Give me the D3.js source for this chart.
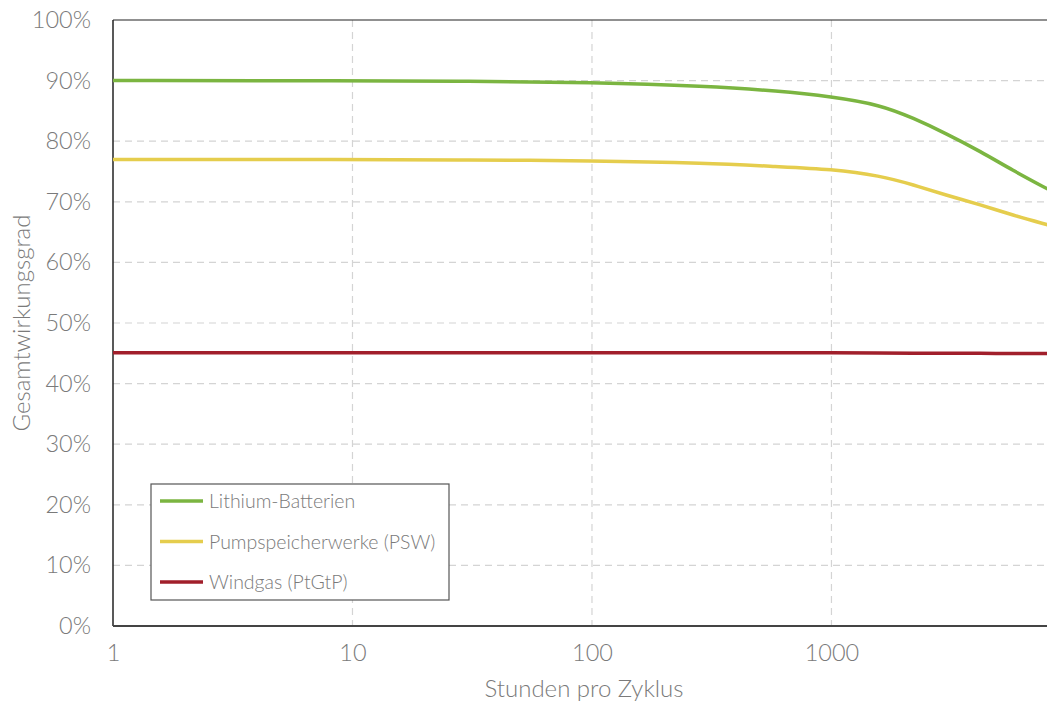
<!DOCTYPE html>
<html lang="de">
<head>
<meta charset="UTF-8">
<script src="https://d3js.org/d3.v7.min.js"></script>
<style>
  body { margin: 0; background: #fff; }
  text { font-family: "Lato", "Open Sans", sans-serif; font-weight: 300; fill: #7a7a7a; }
</style>
<title>Gesamtwirkungsgrad</title>
</head>
<body>
<svg id="chart" width="1047" height="706"></svg>
<script>
    // data
    var hours = [1, 10, 30, 100, 300, 600, 1000, 1600, 2200, 3000, 4200, 5700, 8000];
    var lithium = [90, 90, 89.9, 89.7, 89.1, 88.3, 87.35, 86.0, 83.8, 81.3, 78.3, 75.2, 72.1];
    var psw = [77, 77, 76.9, 76.8, 76.4, 75.8, 75.4, 74.3, 72.8, 71.1, 69.5, 67.8, 66.2];
    var windgas = [45.1, 45.1, 45.1, 45.1, 45.1, 45.1, 45.1, 45.05, 45.0, 45.0, 45.0, 44.95, 44.95];

    var seriesNames = ["Lithium-Batterien", "Pumpspeicherwerke (PSW)", "Windgas (PtGtP)"];
    var seriesColors = ["#7bb541", "#e5cd4d", "#a11f2b"];
    var xTicks = [1, 10, 100, 1000];
    var yTicks = [0, 10, 20, 30, 40, 50, 60, 70, 80, 90, 100];

    var margin = { top: 20, left: 113, bottom: 80 };
    var width = 1047 - margin.left;
    var height = 706 - margin.top - margin.bottom;

    var svg = d3.select("#chart");
    var g = svg.append("g")
        .attr("transform", "translate(" + margin.left + "," + margin.top + ")");

    var x = d3.scaleLog()
        .domain([1, Math.pow(10, 3.9)])
        .range([0, width]);
    var y = d3.scaleLinear()
        .domain([0, 100])
        .range([height, 0]);

    // grid
    g.append("g").selectAll("line")
        .data(yTicks.filter(function (d) { return d > 0 && d < 100; }))
        .enter().append("line")
        .attr("x1", 0).attr("x2", width)
        .attr("y1", function (d) { return y(d); })
        .attr("y2", function (d) { return y(d); })
        .attr("stroke", "#d4d4d4").attr("stroke-width", 1.2)
        .attr("stroke-dasharray", "7,5");

    g.append("g").selectAll("line")
        .data(xTicks.slice(1))
        .enter().append("line")
        .attr("x1", function (d) { return x(d); })
        .attr("x2", function (d) { return x(d); })
        .attr("y1", 0).attr("y2", height)
        .attr("stroke", "#d4d4d4").attr("stroke-width", 1.2)
        .attr("stroke-dasharray", "7,5");

    // frame
    g.append("line").attr("x1", 0).attr("x2", width).attr("y1", 0).attr("y2", 0)
        .attr("stroke", "#222").attr("stroke-width", 1.2);
    g.append("line").attr("x1", 0).attr("x2", 0).attr("y1", 0).attr("y2", height)
        .attr("stroke", "#222").attr("stroke-width", 1.5);
    g.append("line").attr("x1", 0).attr("x2", width).attr("y1", height).attr("y2", height)
        .attr("stroke", "#444").attr("stroke-width", 2);

    // axes (labels only)
    var yAxis = g.append("g")
        .call(d3.axisLeft(y).tickValues(yTicks).tickSize(0).tickPadding(22)
            .tickFormat(function (d) { return d + "%"; }));
    yAxis.select(".domain").remove();
    yAxis.selectAll("text").style("font-size", "23.5px").attr("fill", "#7a7a7a");

    var xAxis = g.append("g")
        .attr("transform", "translate(0," + height + ")")
        .call(d3.axisBottom(x).tickValues(xTicks).tickSize(0).tickPadding(18)
            .tickFormat(d3.format("d")));
    xAxis.select(".domain").remove();
    xAxis.selectAll("text").style("font-size", "23.5px").attr("fill", "#7a7a7a");

    // axis titles
    svg.append("text")
        .attr("x", 584).attr("y", 697)
        .style("text-anchor", "middle").style("font-size", "24px")
        .text("Stunden pro Zyklus");
    svg.append("text")
        .attr("transform", "translate(30," + (margin.top + height / 2) + ") rotate(-90)")
        .style("text-anchor", "middle").style("font-size", "24px")
        .text("Gesamtwirkungsgrad");

    // lines
    var line = d3.line()
        .x(function (d) { return x(d[0]); })
        .y(function (d) { return y(d[1]); })
        .curve(d3.curveBasis);

    [lithium, psw, windgas].forEach(function (vals, i) {
        g.append("path")
            .datum(hours.map(function (h, j) { return [h, vals[j]]; }))
            .attr("d", line)
            .attr("fill", "none")
            .attr("stroke", seriesColors[i])
            .attr("stroke-width", 3.5);
    });

    // legend
    var legend = svg.append("g").attr("transform", "translate(151,484)");
    legend.append("rect")
        .attr("width", 298).attr("height", 116)
        .attr("fill", "#fff").attr("stroke", "#555").attr("stroke-width", 1.2);
    seriesNames.forEach(function (name, i) {
        var ly = 17 + i * 40.5;
        legend.append("line")
            .attr("x1", 9).attr("x2", 52).attr("y1", ly).attr("y2", ly)
            .attr("stroke", seriesColors[i]).attr("stroke-width", 3.5);
        legend.append("text")
            .attr("x", 58).attr("y", ly + 7)
            .style("font-size", "19.5px")
            .attr("fill", "#555")
            .text(name);
    });
</script>
</body>
</html>
